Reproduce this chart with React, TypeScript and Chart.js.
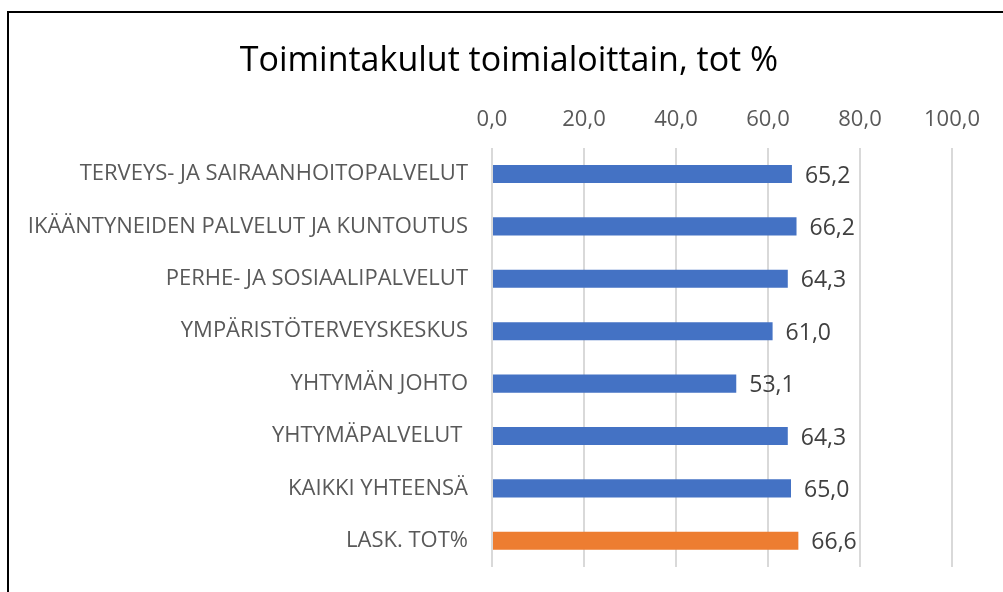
import React, { useEffect, useRef } from "react";
import { Chart, registerables } from "chart.js";

Chart.register(...registerables);

const titleText = "Toimintakulut toimialoittain, tot %";
const categories = [
  "TERVEYS- JA SAIRAANHOITOPALVELUT",
  "IKÄÄNTYNEIDEN PALVELUT JA KUNTOUTUS",
  "PERHE- JA SOSIAALIPALVELUT",
  "YMPÄRISTÖTERVEYSKESKUS",
  "YHTYMÄN JOHTO",
  "YHTYMÄPALVELUT ",
  "KAIKKI YHTEENSÄ",
  "LASK. TOT%",
];
const values = [65.2, 66.2, 64.3, 61.0, 53.1, 64.3, 65.0, 66.6];
const barColors = ["#4472C4", "#4472C4", "#4472C4", "#4472C4", "#4472C4", "#4472C4", "#4472C4", "#ED7D31"];
const xMin = 0;
const xMax = 100;
const xStep = 20;

const fmt = (v: number) => v.toFixed(1).replace(".", ",");

const dataLabelPlugin = {
  id: "dataLabels",
  afterDatasetsDraw(chart: any) {
    const ctx = chart.ctx;
    const meta = chart.getDatasetMeta(0);
    ctx.save();
    ctx.font = "23px 'Open Sans'";
    ctx.fillStyle = "#404040";
    ctx.textAlign = "left";
    ctx.textBaseline = "middle";
    meta.data.forEach((el: any, i: number) => {
      ctx.fillText(fmt(values[i]), el.x + 13, el.y + 2);
    });
    ctx.restore();
  },
};

export default function App() {
  const ref = useRef<HTMLCanvasElement>(null);
  useEffect(() => {
    if (!ref.current) return;
    const chart = new Chart(ref.current, {
      type: "bar",
      data: {
        labels: categories,
        datasets: [
          {
            data: values,
            backgroundColor: barColors,
            borderWidth: 0,
            barPercentage: 0.69,
            categoryPercentage: 0.5,
          },
        ],
      },
      options: {
        indexAxis: "y",
        animation: false,
        responsive: false,
        layout: { padding: { top: 0, bottom: 25, right: 0, left: 0 } },
        plugins: {
          legend: { display: false },
          tooltip: { enabled: false },
          title: {
            display: true,
            text: titleText,
            color: "#000000",
            font: { family: "'Open Sans'", size: 34, weight: "normal" },
            padding: { top: 28, bottom: 7 },
          },
        },
        scales: {
          x: {
            position: "top",
            min: xMin,
            max: xMax,
            ticks: {
              stepSize: xStep,
              color: "#595959",
              font: { family: "'Open Sans'", size: 22 },
              padding: 15,
              callback: (v: any) => fmt(Number(v)),
            },
            grid: { color: "#D9D9D9", lineWidth: 2, drawTicks: false },
            border: { display: false },
            afterFit: (s: any) => {
              s.height = 59;
              s.paddingRight = 57;
              s.paddingLeft = 0;
            },
          },
          y: {
            ticks: {
              color: "#595959",
              font: { family: "'Open Sans'", size: 22 },
              padding: 24,
            },
            grid: { display: false, drawTicks: false },
            border: { display: false },
            afterFit: (s: any) => {
              s.width = 483;
              s.paddingTop = 0;
              s.paddingBottom = 0;
            },
          },
        },
      },
      plugins: [dataLabelPlugin],
    });
    return () => chart.destroy();
  }, []);
  return (
    <div
      style={{
        position: "fixed",
        left: 7,
        top: 11,
        width: 1010,
        height: 600,
        border: "2px solid #000",
        background: "#fff",
        boxSizing: "border-box",
      }}
    >
      <canvas ref={ref} width={1000} height={579} style={{ display: "block" }} />
    </div>
  );
}
